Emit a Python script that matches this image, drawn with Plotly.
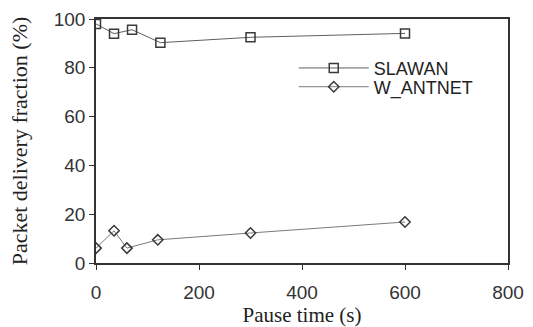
import plotly.graph_objects as go

pause_time = [0, 35, 70, 125, 300, 600]
slawan = [98, 94, 95.6, 90.3, 92.5, 94.1]
pause_time_w = [0, 35, 60, 120, 300, 600]
w_antnet = [6.1, 13.2, 6.1, 9.5, 12.3, 16.8]

x_ticks = [0, 200, 400, 600, 800]
y_ticks = [0, 20, 40, 60, 80, 100]

fig = go.Figure()
fig.add_trace(go.Scatter(
    x=pause_time, y=slawan, name="SLAWAN", mode="lines+markers",
    line=dict(color="#5e5e5e", width=1),
    marker=dict(symbol="square-open", size=9, color="#3a3a3a", line=dict(width=1.5)),
    legend="legend",
))
fig.add_trace(go.Scatter(
    x=pause_time_w, y=w_antnet, name="W_ANTNET", mode="lines+markers",
    line=dict(color="#7a7a7a", width=1),
    marker=dict(symbol="diamond-open", size=8, color="#3a3a3a", line=dict(width=1.5)),
    legend="legend2",
))

leg_font = dict(family="Liberation Sans, Arial", size=18, color="#222")
fig.update_layout(
    width=533, height=327,
    margin=dict(l=96, r=25, t=19, b=64),
    paper_bgcolor="white", plot_bgcolor="white",
    showlegend=True,
    legend=dict(x=0.48, y=0.874, xanchor="left", yanchor="top",
                bgcolor="rgba(0,0,0,0)", font=leg_font, itemwidth=70),
    legend2=dict(x=0.48, y=0.797, xanchor="left", yanchor="top",
                 bgcolor="rgba(0,0,0,0)", font=leg_font, itemwidth=70),
    font=dict(family="Liberation Sans, Arial", size=19, color="#333"),
)
fig.update_xaxes(
    range=[0, 800], tickvals=x_ticks, showgrid=False, zeroline=False,
    showline=True, linecolor="#333", linewidth=1.5, mirror=True,
    ticks="outside", ticklen=5, tickcolor="#333", ticklabelstandoff=6,
    automargin=False,
    title=dict(text="Pause time (s)", font=dict(family="Liberation Serif, Times New Roman", size=21, color="#222"), standoff=6),
)
fig.update_yaxes(
    range=[0, 100], tickvals=y_ticks, showgrid=False, zeroline=False,
    showline=True, linecolor="#333", linewidth=1.5, mirror=True,
    ticks="outside", ticklen=5, tickcolor="#333",
    automargin=False,
    title=dict(text="Packet delivery fraction (%)", font=dict(family="Liberation Serif, Times New Roman", size=22, color="#222"), standoff=20),
)
fig.write_html("out.html")
